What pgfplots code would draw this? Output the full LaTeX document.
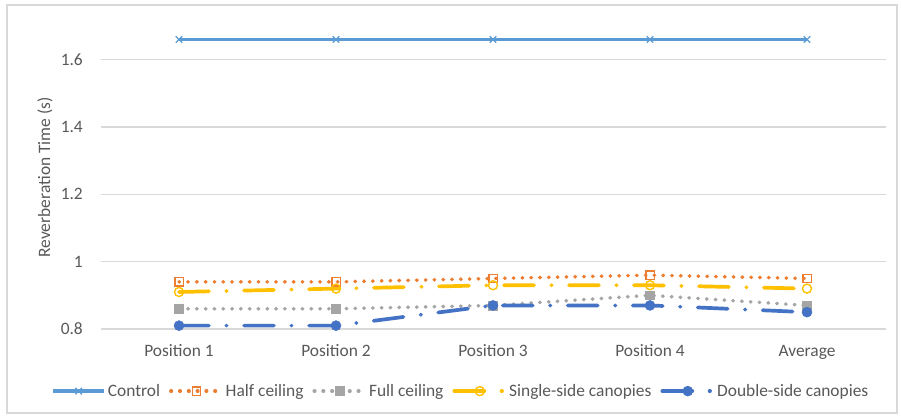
\documentclass[border=0pt]{standalone}
\usepackage{fontspec}
\setmainfont{Carlito}
\usepackage{pgfplots}
\pgfplotsset{compat=1.18}
\definecolor{cCtrl}{HTML}{5B9BD5}
\definecolor{cHalf}{HTML}{ED7D31}
\definecolor{cFull}{HTML}{A5A5A5}
\definecolor{cSingle}{HTML}{FFC000}
\definecolor{cDouble}{HTML}{4472C4}
\definecolor{cText}{HTML}{595959}
\definecolor{cGrid}{HTML}{D9D9D9}
\newcommand{\cfont}{\fontsize{17.4}{20}\selectfont}
\begin{document}
\begin{tikzpicture}[x=1pt,y=1pt]
\useasboundingbox (0pt,0pt) rectangle (901pt,418pt);
\fill[white] (0pt,0pt) rectangle (901pt,418pt);
\draw[color=cGrid, line width=1.2pt] (7pt,5pt) rectangle (897pt,413pt);
\begin{axis}[
  at={(100.5pt,89pt)}, anchor=south west,
  scale only axis, width=785pt, height=303pt,
  xmin=-0.5, xmax=4.5, ymin=0.8, ymax=1.7,
  xtick={0,1,2,3,4},
  xticklabels={Position 1,Position 2,Position 3,Position 4,Average},
  ytick={0.8,1,1.2,1.4,1.6},
  yticklabels={0.8,1,1.2,1.4,1.6},
  ymajorgrids, grid style={color=cGrid, line width=1.2pt},
  axis line style={draw=none},
  major tick length=0pt,
  tick label style={font=\cfont, text=cText, inner sep=0pt},
  yticklabel style={anchor=east, xshift=-17.5pt},
  xticklabel style={anchor=base, yshift=-27.7pt},
  ylabel={Reverberation Time (s)},
  ylabel style={font=\cfont, text=cText, at={(axis description cs:-0.0707,0.5)}, anchor=center},
  clip=false,
  legend columns=-1,
  legend style={at={(axis description cs:0.459,-0.205)}, anchor=center, draw=none, fill=none,
    font=\cfont, text=cText, inner sep=0pt,
    /tikz/every even column/.append style={column sep=7pt}},
  legend image code/.code={\draw[mark repeat=2,mark phase=2] plot coordinates {(0pt,0pt) (25.5pt,0pt) (51pt,0pt)};},
]
\addplot[color=cCtrl, line width=3.6pt, mark=x, mark size=4.6pt, mark options={solid, line width=1.2pt}]
  coordinates {(0,1.66) (1,1.66) (2,1.66) (3,1.66) (4,1.66)};
\addlegendentry{Control}
\addplot[color=cHalf, line width=3.6pt, line cap=round, dash pattern=on 0.5pt off 8.3pt, mark=square, mark size=4.2pt, mark options={solid, line width=1.4pt, fill=none}]
  coordinates {(0,0.94) (1,0.94) (2,0.95) (3,0.96) (4,0.95)};
\addlegendentry{Half ceiling}
\addplot[color=cFull, line width=3.6pt, line cap=round, dash pattern=on 0.5pt off 8.3pt, mark=square*, mark size=4.4pt, mark options={solid, fill=cFull, draw=cFull, line width=0.5pt}]
  coordinates {(0,0.86) (1,0.86) (2,0.87) (3,0.90) (4,0.87)};
\addlegendentry{Full ceiling}
\addplot[color=cSingle, line width=3.7pt, line cap=round, dash pattern=on 30pt off 17.25pt on 0.5pt off 17.25pt, mark=o, mark size=4.5pt, mark options={solid, line width=1.4pt, fill=none}]
  coordinates {(0,0.91) (1,0.92) (2,0.93) (3,0.93) (4,0.92)};
\addlegendentry{Single-side canopies}
\addplot[color=cDouble, line width=3.7pt, line cap=round, dash pattern=on 30pt off 17.25pt on 0.5pt off 17.25pt, mark=*, mark size=5pt, mark options={solid, fill=cDouble, draw=cDouble, line width=0.5pt}]
  coordinates {(0,0.81) (1,0.81) (2,0.87) (3,0.87) (4,0.85)};
\addlegendentry{Double-side canopies}
\end{axis}
\end{tikzpicture}
\end{document}
